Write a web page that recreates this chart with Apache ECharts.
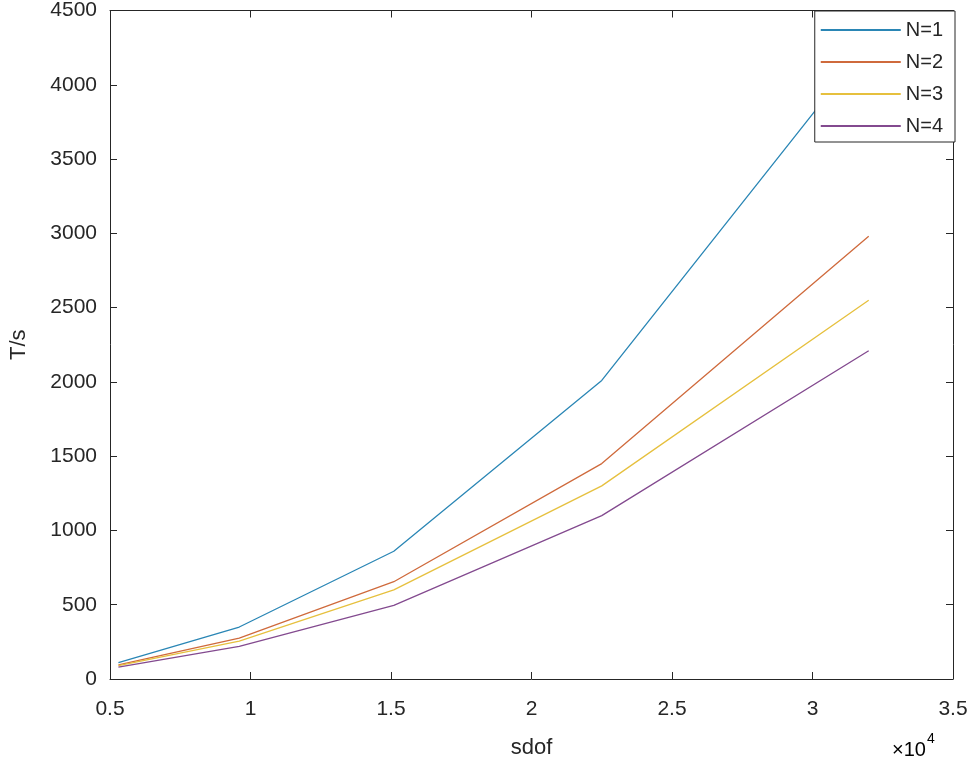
<!DOCTYPE html>
<html>
<head>
<meta charset="utf-8">
<title>T/s vs sdof</title>
<script src="https://cdn.jsdelivr.net/npm/echarts@6/dist/echarts.min.js"></script>
<style>
  html, body { margin: 0; padding: 0; background: #fff; }
  #chart { width: 975px; height: 764px; }
</style>
</head>
<body>
<div id="chart"></div>
<script>
// sdof values (in units of 10^4)
const sdof = [0.53, 0.96, 1.51, 2.25, 3.2]
const seriesNames = ['N=1', 'N=2', 'N=3', 'N=4']
const n1 = [110, 350, 860, 2010, 4280]
const n2 = [95, 275, 655, 1450, 2980]
const n3 = [90, 255, 600, 1300, 2550]
const n4 = [80, 220, 495, 1100, 2210]
const colors = ['#2a86b5', '#cf6a3c', '#e6c03e', '#834a8f']

const axisColor = '#262626'
const font = 'Liberation Sans, Arial, sans-serif'

const toPairs = ys => sdof.map((x, i) => [x, ys[i]])
const allSeries = [n1, n2, n3, n4].map((ys, i) => ({
  name: seriesNames[i],
  type: 'line',
  data: toPairs(ys),
  symbol: 'none',
  lineStyle: { width: 1.3, color: colors[i] },
  itemStyle: { color: colors[i] }
}))

const tickLine = { show: true, inside: true, length: 7, lineStyle: { color: axisColor, width: 1 } }
const axisLine = { show: true, onZero: false, lineStyle: { color: axisColor, width: 1 } }

const chart = echarts.init(document.getElementById('chart'))
chart.setOption({
  animation: false,
  backgroundColor: '#fff',
  grid: { left: 108, right: 22, top: 10, bottom: 85, containLabel: false },
  legend: {
    data: seriesNames,
    orient: 'vertical',
    right: 20,
    top: 11,
    icon: 'rect',
    itemWidth: 80,
    itemHeight: 2,
    itemGap: 12,
    padding: [9, 12, 6, 6],
    borderColor: axisColor,
    borderWidth: 1,
    borderRadius: 0,
    backgroundColor: '#fff',
    textStyle: { fontFamily: font, fontSize: 20, color: axisColor, padding: [0, 0, 0, 0] }
  },
  xAxis: [
    {
      type: 'value', position: 'bottom', min: 0.5, max: 3.5, interval: 0.5,
      axisLine: axisLine, axisTick: tickLine, splitLine: { show: false },
      axisLabel: { fontFamily: font, fontSize: 21, color: axisColor, margin: 20 },
      name: 'sdof', nameLocation: 'middle', nameGap: 58,
      nameTextStyle: { fontFamily: font, fontSize: 22, color: axisColor }
    },
    {
      type: 'value', position: 'top', min: 0.5, max: 3.5, interval: 0.5,
      axisLine: axisLine, axisTick: tickLine, splitLine: { show: false },
      axisLabel: { show: false }
    }
  ],
  yAxis: [
    {
      type: 'value', position: 'left', min: 0, max: 4500, interval: 500,
      axisLine: axisLine, axisTick: tickLine, splitLine: { show: false },
      axisLabel: { fontFamily: font, fontSize: 21, color: axisColor, margin: 13, formatter: v => String(v) },
      name: 'T/s', nameLocation: 'middle', nameGap: 80, nameRotate: 90,
      nameTextStyle: { fontFamily: font, fontSize: 22, color: axisColor }
    },
    {
      type: 'value', position: 'right', min: 0, max: 4500, interval: 500,
      axisLine: axisLine, axisTick: tickLine, splitLine: { show: false },
      axisLabel: { show: false }
    }
  ],
  graphic: [
    {
      type: 'text', left: 892, top: 732,
      style: {
        text: '{a|×10}{b|4}',
        rich: {
          a: { fontFamily: font, fontSize: 20, color: '#555', verticalAlign: 'bottom', lineHeight: 24 },
          b: { fontFamily: font, fontSize: 14, color: '#555', verticalAlign: 'top', padding: [0, 0, 14, 1] }
        }
      }
    }
  ],
  series: allSeries
})
</script>
</body>
</html>
